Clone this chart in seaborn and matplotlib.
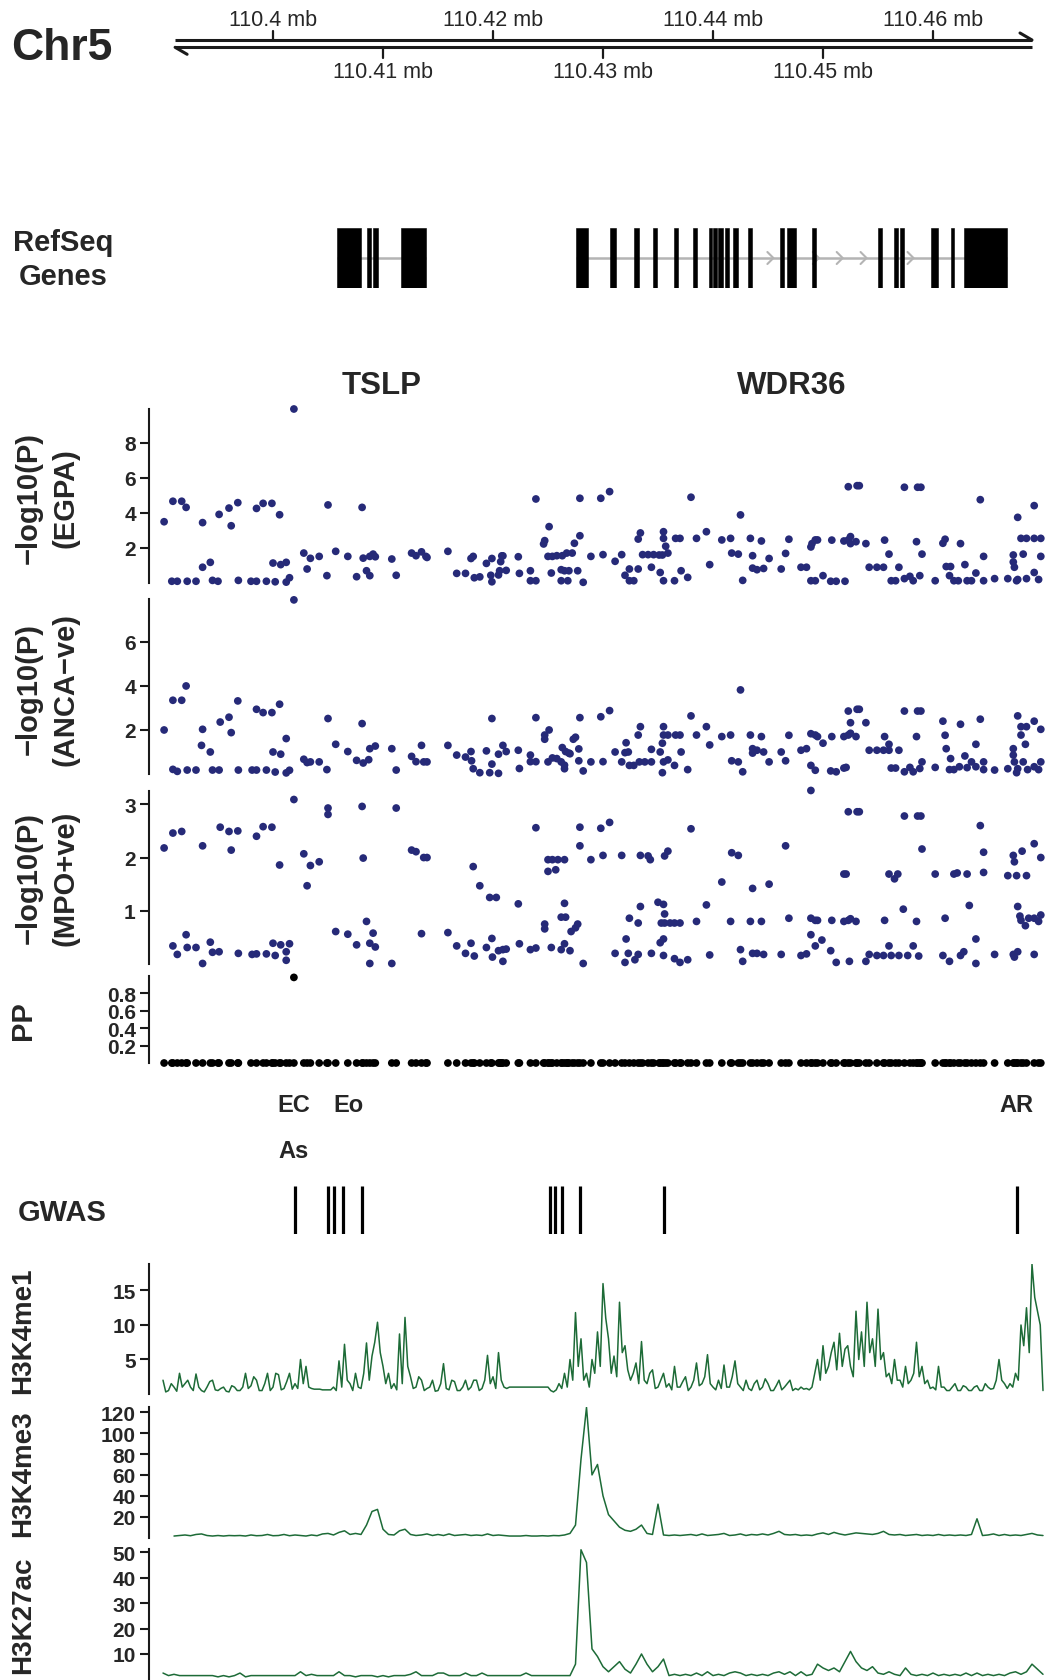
import numpy as np
import pandas as pd
import matplotlib
matplotlib.use("Agg")
import matplotlib.pyplot as plt
import matplotlib.transforms as mtransforms
import seaborn as sns

sns.set_theme(style="white")
plt.rcParams["font.family"] = ["Liberation Sans", "DejaVu Sans"]

# ---------------------------------------------------------------- region
ORIGIN_MB = 110.40                      # offsets below are kb from this point
VIEW_MB = (110.388727, 110.470273)      # plotted window on chr5

axis_ticks_upper = [110.40, 110.42, 110.44, 110.46]
axis_ticks_lower = [110.41, 110.43, 110.45]
axis_line_mb = (110.3911, 110.4690)

# ---------------------------------------------------------------- genes (Mb)
tslp_exons = [(110.40580, 110.40797), (110.40855, 110.40889),
              (110.40906, 110.40955), (110.41163, 110.41389)]
wdr36_exons = [(110.42758, 110.42863), (110.43066, 110.43119), (110.43280, 110.43327),
               (110.43454, 110.43493), (110.43641, 110.43684), (110.43819, 110.43854),
               (110.43963, 110.43993), (110.44002, 110.44036), (110.44049, 110.44088),
               (110.44105, 110.44149), (110.44184, 110.44227), (110.44315, 110.44358),
               (110.44610, 110.44645), (110.44675, 110.44758), (110.44897, 110.44932),
               (110.45496, 110.45532), (110.45645, 110.45679), (110.45697, 110.45732),
               (110.45984, 110.46045), (110.46166, 110.46193), (110.46279, 110.46671)]
wdr36_strand_marks = [110.44549, 110.44962, 110.45179, 110.45396, 110.45823]
gene_names = ["TSLP", "WDR36"]

# ---------------------------------------------------------------- association (kb offset, -log10 P)
egpa_points = [
    (-9.9, 3.5), (-9.1, 4.67), (-8.3, 4.67), (-7.9, 4.32), (-6.4, 3.45), (-6.4, 0.9), (-5.7, 1.18),
    (-9.2, 0.1), (-8.7, 0.1), (-7.8, 0.1), (-7.0, 0.1), (-5.5, 0.15), (-5.0, 0.1), (-4.9, 3.92),
    (-4.0, 4.28), (-3.8, 3.27), (-3.2, 4.59), (-3.15, 0.15), (-2.0, 0.1), (-1.5, 0.1), (-1.5, 4.26),
    (-0.9, 4.55), (-0.1, 4.55), (0.6, 3.9), (-0.6, 0.1), (0.0, 1.14), (0.7, 1.05), (1.2, 1.18),
    (0.2, 0.07), (1.2, 0.05), (1.5, 0.3), (1.9, 9.94), (2.8, 1.71), (3.4, 1.41), (3.1, 0.8),
    (4.2, 1.52), (5.0, 4.46), (4.9, 0.42), (5.7, 1.81), (6.8, 1.52), (7.6, 0.36), (8.1, 4.32),
    (8.2, 1.42), (8.8, 1.52), (9.1, 1.65), (9.3, 1.5), (8.5, 0.7), (8.8, 0.42), (10.8, 1.37),
    (11.2, 0.44), (12.6, 1.71), (13.0, 1.56), (13.5, 1.78), (13.9, 1.52), (14.0, 1.46), (15.9, 1.81),
    (16.7, 0.55), (17.5, 0.55), (18.0, 1.40), (18.2, 1.52), (18.3, 0.3), (18.8, 0.35), (19.4, 1.12),
    (19.9, 1.40), (19.8, 0.44), (19.9, 0.07), (20.5, 0.46), (20.6, 0.7), (21.2, 0.72), (20.8, 1.55),
    (20.9, 1.55), (20.7, 1.22), (22.3, 1.5), (22.4, 0.55), (23.4, 0.7), (23.4, 0.13), (23.9, 0.13),
    (23.9, 4.8), (25.1, 3.22), (24.7, 2.42), (24.6, 2.23), (25.0, 1.52), (25.4, 1.52), (25.8, 1.56),
    (26.3, 1.56), (26.7, 1.71), (27.2, 1.71), (25.3, 0.57), (26.2, 0.76), (26.5, 0.7), (26.9, 0.7),
    (27.7, 0.7), (26.2, 0.13), (26.8, 0.13), (27.4, 2.27), (27.9, 2.7), (27.9, 4.84), (28.2, 0.04),
    (28.9, 1.52), (29.8, 4.84), (30.0, 1.62), (30.6, 5.22), (31.1, 1.24), (31.7, 1.62), (32.0, 0.44),
    (32.4, 0.8), (32.4, 0.13), (32.8, 0.13), (33.2, 2.51), (33.4, 2.86), (33.2, 0.8), (33.6, 1.62),
    (34.1, 1.62), (34.6, 1.62), (35.1, 1.6), (35.4, 1.6), (35.9, 1.71), (34.4, 0.9), (35.5, 2.93),
    (35.5, 2.55), (35.7, 2.1), (35.2, 0.6), (35.5, 0.13), (36.5, 0.13), (36.6, 2.55), (37.0, 2.55),
    (37.1, 0.7), (37.7, 0.32), (38.0, 4.9), (38.5, 2.55), (39.4, 2.93), (39.7, 1.05), (40.8, 2.46),
    (41.6, 2.55), (41.7, 1.71), (42.3, 1.65), (42.5, 3.89), (42.7, 0.15), (43.4, 2.55), (43.6, 1.56),
    (43.6, 0.85), (44.0, 0.76), (44.4, 2.4), (44.6, 0.83), (45.1, 1.4), (46.2, 0.8), (46.6, 1.69),
    (46.9, 2.5), (48.0, 0.9), (48.5, 0.9), (48.9, 2.06), (49.0, 2.25), (48.9, 0.13), (49.3, 0.13),
    (49.3, 2.46), (49.5, 2.46), (50.0, 0.42), (50.7, 0.1), (51.2, 0.1), (52.0, 0.1), (50.8, 2.45),
    (51.9, 2.4), (52.3, 2.46), (52.5, 2.65), (53.0, 2.36), (52.5, 2.25), (52.3, 5.5), (53.1, 5.56),
    (53.3, 5.56), (53.9, 2.25), (54.2, 0.9), (54.9, 0.9), (55.5, 0.9), (55.6, 2.45), (56.0, 1.65),
    (56.2, 0.13), (56.6, 0.13), (57.4, 0.25), (57.9, 0.38), (58.2, 0.13), (58.8, 0.42), (56.9, 0.9),
    (57.4, 5.47), (58.6, 5.47), (58.9, 5.47), (58.5, 2.36), (59.0, 1.65), (60.2, 0.13), (60.9, 2.27),
    (61.1, 2.5), (61.2, 0.94), (61.6, 0.94), (61.5, 0.42), (61.9, 0.13), (62.3, 0.13), (62.5, 2.25),
    (62.9, 1.05), (63.1, 0.13), (63.5, 0.13), (63.9, 0.57), (64.3, 4.76), (64.6, 1.52), (64.6, 0.13),
    (65.6, 0.25), (66.8, 0.25), (67.3, 1.6), (67.3, 1.2), (67.4, 0.9), (67.6, 0.13), (67.7, 0.2),
    (67.7, 3.75), (68.0, 2.55), (68.5, 2.55), (69.2, 2.55), (69.8, 2.55), (68.2, 1.65), (69.2, 4.42),
    (68.5, 0.25), (69.2, 0.6), (69.6, 0.2), (69.8, 1.52),
]

anca_neg_points = [
    (-9.9, 2.0), (-9.1, 3.35), (-8.3, 3.35), (-7.9, 4.0), (-9.1, 0.21), (-8.7, 0.12), (-7.8, 0.18),
    (-7.0, 0.18), (-6.4, 2.03), (-6.5, 1.3), (-5.7, 1.0), (-5.5, 0.18), (-4.9, 0.18), (-4.8, 2.36),
    (-4.0, 2.58), (-3.8, 1.88), (-3.2, 3.32), (-3.15, 0.18), (-1.9, 0.18), (-1.5, 0.18), (-1.5, 2.94),
    (-0.9, 2.79), (-0.1, 2.79), (0.6, 3.17), (-0.6, 0.18), (0.0, 1.0), (0.7, 0.9), (1.2, 1.61),
    (0.2, 0.09), (1.2, 0.05), (1.5, 0.17), (1.9, 7.91), (2.8, 0.67), (3.1, 0.52), (3.4, 0.55),
    (4.2, 0.55), (5.0, 2.52), (4.9, 0.2), (5.7, 1.35), (6.8, 1.02), (7.6, 0.62), (8.1, 2.29),
    (8.2, 0.5), (8.7, 0.65), (8.8, 1.15), (9.3, 1.27), (10.8, 1.15), (11.2, 0.18), (12.6, 0.8),
    (13.0, 0.56), (13.5, 1.3), (13.7, 0.55), (14.0, 0.55), (15.9, 1.3), (16.7, 0.86), (17.5, 0.77),
    (18.0, 1.02), (18.05, 0.6), (18.2, 0.24), (18.8, 0.06), (19.4, 1.05), (19.9, 2.52), (19.9, 0.45),
    (19.7, 0.06), (20.5, 0.03), (20.5, 0.9), (20.9, 1.3), (21.2, 1.02), (22.3, 1.08), (22.4, 0.25),
    (23.4, 0.86), (23.4, 0.56), (23.9, 0.56), (23.9, 2.56), (25.1, 2.0), (24.7, 1.77), (24.7, 1.58),
    (25.0, 0.55), (25.4, 0.73), (25.8, 0.7), (26.2, 0.55), (26.5, 0.4), (26.9, 0.95), (27.3, 1.58),
    (27.5, 1.67), (26.3, 1.2), (26.6, 1.02), (27.0, 0.92), (26.5, 0.24), (27.8, 0.6), (27.8, 1.14),
    (28.2, 0.14), (27.9, 2.56), (28.9, 0.55), (29.8, 2.6), (30.0, 0.56), (30.6, 2.88), (31.1, 1.0),
    (31.7, 0.55), (32.0, 0.97), (32.1, 1.42), (32.3, 1.0), (32.4, 0.39), (32.8, 0.39), (33.3, 0.55),
    (33.8, 0.55), (34.4, 0.55), (34.4, 1.12), (33.2, 1.77), (33.4, 2.15), (35.2, 1.0), (35.5, 2.15),
    (35.5, 1.77), (35.4, 1.4), (35.9, 1.77), (35.5, 0.55), (35.9, 0.64), (35.4, 0.06), (36.5, 0.39),
    (36.6, 1.77), (37.0, 1.77), (37.1, 1.0), (37.7, 0.2), (38.0, 2.64), (38.5, 1.77), (39.4, 2.15),
    (39.7, 1.32), (40.8, 1.7), (41.6, 1.77), (41.7, 0.6), (42.3, 0.55), (42.5, 3.82), (42.7, 0.1),
    (43.4, 1.77), (43.6, 0.95), (43.6, 1.15), (44.0, 1.08), (44.4, 1.7), (44.6, 1.0), (45.1, 0.55),
    (46.2, 1.0), (46.6, 0.6), (46.9, 1.76), (48.0, 1.08), (48.5, 1.15), (48.9, 1.83), (49.3, 1.77),
    (49.5, 1.7), (48.9, 0.39), (49.3, 0.17), (50.0, 1.4), (50.7, 0.14), (51.2, 0.1), (50.8, 1.7),
    (51.9, 1.7), (52.3, 1.77), (52.5, 1.85), (53.0, 1.7), (51.9, 0.27), (52.1, 0.3), (52.3, 2.86),
    (53.1, 2.94), (53.3, 2.94), (52.5, 2.33), (53.9, 2.33), (54.2, 1.08), (54.9, 1.08), (55.5, 1.08),
    (56.0, 1.08), (56.9, 1.08), (55.6, 1.7), (56.0, 1.35), (56.2, 0.27), (56.6, 0.27), (57.4, 0.1),
    (57.9, 0.3), (58.2, 0.1), (58.8, 0.25), (59.0, 0.55), (57.4, 2.86), (58.6, 2.86), (58.9, 2.86),
    (58.5, 1.7), (60.2, 0.3), (60.9, 2.4), (61.1, 1.76), (61.2, 1.15), (61.6, 0.7), (61.5, 0.2),
    (61.9, 0.2), (62.4, 0.33), (62.5, 2.26), (62.9, 0.82), (63.1, 0.29), (63.5, 0.55), (63.9, 1.35),
    (63.9, 0.33), (64.3, 2.49), (64.6, 0.55), (64.6, 0.2), (65.6, 0.18), (66.8, 0.24), (67.3, 1.15),
    (67.3, 0.86), (67.4, 0.55), (67.6, 0.06), (67.7, 0.24), (67.7, 2.64), (68.0, 2.15), (68.5, 2.15),
    (69.2, 2.4), (69.8, 2.03), (68.0, 1.77), (68.4, 1.35), (68.2, 0.55), (68.6, 0.2), (69.2, 0.33),
    (69.6, 0.2), (69.8, 0.55),
]

mpo_pos_points = [
    (-9.9, 2.18), (-9.1, 2.46), (-8.3, 2.49), (-9.1, 0.34), (-8.7, 0.18), (-7.9, 0.55), (-7.8, 0.31),
    (-7.0, 0.31), (-6.4, 0.01), (-6.4, 2.22), (-5.7, 0.41), (-5.5, 0.22), (-4.9, 0.23), (-4.8, 2.57),
    (-4.0, 2.49), (-3.8, 2.14), (-3.2, 2.5), (-3.15, 0.2), (-1.9, 0.18), (-1.5, 0.19), (-1.5, 2.4),
    (-0.9, 2.58), (-0.1, 2.57), (0.6, 1.86), (-0.6, 0.19), (0.0, 0.39), (0.7, 0.36), (1.2, 0.23),
    (0.2, 0.16), (1.2, 0.07), (1.5, 0.38), (1.9, 3.09), (2.8, 2.07), (3.1, 1.47), (3.4, 1.85),
    (4.2, 1.92), (5.0, 2.93), (5.0, 2.81), (5.7, 0.61), (6.8, 0.56), (7.6, 0.36), (8.1, 2.96),
    (8.2, 1.99), (8.5, 0.8), (8.8, 0.01), (8.8, 0.39), (9.1, 0.58), (9.3, 0.32), (10.8, 0.01),
    (11.2, 2.93), (12.6, 2.14), (13.0, 2.11), (13.5, 0.57), (13.7, 2.0), (14.0, 2.0), (15.9, 0.59),
    (16.7, 0.34), (17.5, 0.2), (18.0, 0.39), (18.3, 0.15), (18.2, 1.83), (18.8, 1.47), (19.4, 0.31),
    (19.7, 1.25), (20.3, 1.25), (19.9, 0.48), (19.95, 0.13), (20.9, 0.05), (20.5, 0.25), (20.9, 0.27),
    (21.2, 0.28), (22.3, 1.13), (22.4, 0.38), (23.4, 0.27), (23.9, 0.3), (23.9, 2.56), (25.0, 1.96),
    (25.4, 1.96), (25.9, 1.96), (26.5, 1.96), (25.0, 1.74), (25.7, 1.77), (24.7, 0.75), (24.7, 0.66),
    (25.3, 0.31), (26.2, 0.88), (26.6, 0.88), (26.5, 1.14), (27.1, 0.61), (27.5, 0.68), (27.7, 0.75),
    (26.2, 0.27), (26.5, 0.38), (27.0, 0.25), (27.9, 2.57), (27.9, 2.22), (28.2, 0.01), (28.9, 1.96),
    (29.8, 2.55), (30.0, 2.04), (30.6, 2.66), (31.1, 0.2), (31.7, 2.04), (32.0, 0.03), (32.1, 0.47),
    (32.4, 0.86), (32.3, 0.2), (32.9, 0.08), (33.2, 0.18), (33.2, 0.77), (33.4, 1.08), (33.4, 2.04),
    (34.1, 2.03), (34.3, 1.96), (34.4, 0.2), (35.0, 1.16), (35.5, 1.12), (35.6, 0.94), (35.3, 0.77),
    (35.6, 0.77), (36.1, 0.77), (36.5, 0.77), (37.0, 0.77), (35.2, 0.4), (35.5, 0.47), (35.5, 0.16),
    (35.6, 2.03), (35.9, 2.12), (36.5, 0.1), (37.0, 0.03), (37.7, 0.08), (38.0, 2.54), (38.5, 0.8),
    (39.4, 1.11), (39.7, 0.17), (40.8, 1.54), (41.6, 0.8), (41.7, 2.09), (42.3, 2.04), (42.5, 0.27),
    (42.7, 0.05), (43.4, 0.8), (43.6, 1.42), (43.6, 0.2), (44.0, 0.2), (44.4, 0.8), (44.6, 0.18),
    (45.1, 1.5), (46.2, 0.18), (46.6, 2.22), (46.9, 0.86), (48.0, 0.16), (48.5, 0.19), (48.9, 0.86),
    (49.3, 0.82), (49.5, 0.82), (48.9, 3.26), (48.9, 0.55), (49.3, 0.34), (49.9, 0.45), (50.7, 0.25),
    (51.2, 0.03), (50.8, 0.82), (51.9, 1.69), (52.1, 1.69), (51.9, 0.8), (52.3, 0.82), (52.5, 0.85),
    (53.0, 0.8), (52.4, 0.05), (52.3, 2.86), (53.1, 2.86), (53.3, 2.86), (53.9, 0.05), (54.2, 0.18),
    (54.9, 0.16), (55.5, 0.16), (55.6, 0.82), (56.0, 0.34), (56.0, 1.69), (56.5, 1.6), (56.8, 1.69),
    (56.2, 0.16), (56.9, 0.16), (57.7, 0.16), (58.2, 0.34), (58.7, 0.15), (57.3, 1.03), (57.4, 2.78),
    (58.6, 2.78), (58.9, 2.78), (58.5, 0.8), (59.0, 2.16), (60.2, 1.69), (61.1, 0.86), (60.9, 0.16),
    (61.5, 0.05), (61.9, 1.69), (62.2, 1.71), (62.5, 0.16), (62.8, 0.23), (63.1, 1.69), (63.3, 1.1),
    (63.9, 0.47), (63.9, 0.01), (64.3, 2.6), (64.6, 1.72), (64.6, 2.1), (65.6, 0.18), (66.8, 1.66),
    (67.3, 2.04), (67.4, 1.92), (67.6, 1.66), (68.5, 1.66), (67.7, 1.08), (67.3, 0.18), (67.4, 0.13),
    (67.7, 0.23), (67.9, 0.9), (68.0, 0.82), (68.4, 0.72), (68.7, 0.86), (69.2, 0.86), (69.6, 0.8),
    (69.8, 0.92), (68.1, 2.12), (69.2, 2.26), (69.8, 2.0), (69.2, 0.18),
]

# posterior probability of the lead variant; every other SNP sits at 0
pp_lead = (1.9, 0.98)

# ---------------------------------------------------------------- GWAS hits (kb offset) and traits
gwas_kb = [1.97, 5.0, 5.58, 6.36, 8.09, 25.16, 25.64, 26.24, 27.89, 35.59, 67.64]
gwas_traits = [("EC", 1.9, 0), ("Eo", 6.9, 0), ("AR", 67.6, 0), ("As", 1.9, 1)]

# ---------------------------------------------------------------- histone signal (bins from -10 kb)
bin_start_kb = -10.0
me1_bin_kb = 0.25
mark_bin_kb = 0.5
nan = np.nan
h3k4me1 = [
    2.0, 0.3, 0.5, 1.5, 1.0, 0.4, 3.0, 1.0, 1.5, 2.0, 1.0, 0.5, 2.9, 1.0, 0.5, 0.3,
    1.0, 1.8, 2.0, 0.6, 0.5, 0.8, 1.0, 0.4, 0.3, 1.2, 1.0, 0.5, 0.5, 1.0, 3.0, 0.8,
    1.2, 2.5, 2.0, 0.5, 0.5, 1.5, 3.0, 0.5, 1.0, 3.0, 2.8, 0.6, 0.8, 1.8, 3.0, 0.7,
    1.5, 0.8, 5.0, 1.5, 4.0, 1.0, 0.8, 0.7, 0.7, 0.7, 0.6, 0.6, 0.6, 0.6, 1.0, 0.5,
    4.8, 1.0, 7.2, 2.0, 1.5, 0.5, 3.0, 1.0, 0.8, 3.0, 7.4, 2.0, 5.5, 7.5, 10.4, 6.0,
    4.0, 1.5, 3.0, 0.8, 1.5, 0.6, 8.7, 1.5, 11.1, 4.0, 2.5, 0.8, 1.0, 2.5, 2.0, 0.5,
    0.8, 1.0, 2.0, 0.4, 0.5, 1.5, 4.4, 0.8, 0.6, 2.0, 1.8, 0.5, 0.5, 1.0, 2.0, 0.6,
    1.0, 2.0, 2.0, 0.5, 0.8, 2.0, 5.6, 1.5, 2.5, 0.8, 6.0, 2.0, 1.0, 0.8, 1.0, nan,
    nan, nan, nan, nan, nan, nan, nan, nan, nan, nan, nan, nan,
    1.0, 0.5, 0.3, 0.6, 1.5, 0.8, 3.0, 1.0, 5.0, 2.0, 11.8, 4.0, 8.0, 2.0, 3.0, 1.0,
    5.0, 3.0, 9.0, 4.0, 16.0, 11.0, 8.0, 3.0, 5.5, 2.5, 13.3, 6.0, 7.0, 3.5, 2.0, 3.0,
    4.5, 1.5, 7.6, 2.0, 1.5, 3.0, 3.5, 0.8, 1.0, 2.0, 3.0, 1.0, 1.5, 0.6, 4.0, 1.0,
    1.0, 1.8, 2.5, 0.5, 1.0, 2.0, 4.5, 1.2, 1.5, 2.5, 5.7, 1.5, 1.0, 0.6, 2.0, 0.8,
    4.2, 1.0, 1.0, 2.5, 4.8, 1.5, 1.0, 0.5, 2.0, 0.8, 0.5, 1.5, 2.0, 0.6, 1.0, 2.2,
    1.5, 0.5, 0.5, 1.2, 2.0, 0.6, 1.0, 1.5, 2.0, 0.5, 0.8, 0.6, 1.0, 0.7, 0.8, 0.6,
    1.0, 3.0, 5.0, 2.0, 7.0, 3.0, 4.0, 6.0, 7.5, 3.5, 8.8, 4.0, 6.5, 7.0, 4.0, 2.5,
    12.0, 5.0, 9.0, 4.0, 13.3, 6.0, 8.0, 4.0, 12.3, 5.0, 6.0, 2.5, 3.0, 1.5, 5.0, 2.0,
    2.0, 1.0, 4.0, 1.5, 2.0, 3.0, 7.5, 2.5, 4.0, 1.5, 2.0, 0.8, 1.0, 0.6, 4.0, 1.0,
    1.0, 0.5, 0.5, 1.0, 1.5, 0.5, 0.5, 1.2, 1.0, 0.5, 0.5, 1.0, 1.2, 0.5, 0.5, 1.5,
    1.0, 0.7, 0.8, 2.0, 5.0, 2.0, 1.5, 0.8, 1.5, 1.0, 3.0, 2.0, 10.0, 7.0, 12.5, 6.0,
    18.8, 14.0, 12.0, 10.0, 0.5,
]
h3k4me3 = [
    nan, nan, 1.5, 2.0, 2.5, 1.8, 3.0, 3.5, 2.0, 1.5,
    2.0, 1.5, 2.0, 1.8, 2.0, 1.5, 2.5, 1.8, 2.0, 3.0,
    1.8, 2.0, 3.0, 1.8, 2.5, 2.0, 1.5, 2.5, 1.8, 3.5,
    4.0, 2.5, 5.0, 6.5, 3.0, 4.0, 3.0, 12.0, 25.0, 27.0,
    8.0, 3.0, 2.5, 6.5, 8.0, 3.0, 2.0, 2.5, 3.5, 2.0,
    3.0, 2.0, 3.5, 2.0, 2.5, 3.0, 2.0, 2.5, 2.0, 3.5,
    2.0, 2.5, 2.0, 1.5, 1.5, 1.5, 2.0, 1.5, 1.5, 1.8,
    1.5, 2.0, 1.8, 2.5, 4.0, 12.0, 75.0, 124.7, 60.0, 70.0,
    40.0, 22.0, 16.0, 10.0, 7.0, 6.0, 8.0, 12.0, 4.0, 3.0,
    32.0, 2.5, 2.0, 2.5, 2.0, 2.5, 3.0, 2.0, 3.5, 2.0,
    2.5, 3.0, 4.0, 2.0, 2.5, 3.5, 2.0, 3.0, 2.5, 3.5,
    2.5, 4.0, 6.0, 3.0, 2.5, 3.0, 2.0, 2.5, 2.0, 3.5,
    4.5, 3.0, 5.0, 3.5, 2.5, 3.5, 4.5, 4.0, 3.5, 3.0,
    4.0, 6.0, 3.0, 2.5, 3.0, 2.0, 2.5, 3.0, 2.0, 2.5,
    2.0, 3.0, 2.0, 2.5, 2.0, 2.5, 2.0, 3.0, 18.0, 2.0,
    2.5, 3.5, 2.0, 3.0, 2.0, 2.5, 2.0, 3.0, 4.0, 2.5, 2.0,
]
h3k27ac = [
    2.5, 1.5, 2.0, 1.5, 1.5, 1.5, 1.5, 1.5, 1.5, 1.5,
    1.0, 1.5, 1.0, 1.5, 2.5, 1.0, 1.5, 1.5, 1.5, 1.5,
    1.5, 1.5, 1.5, 1.5, 1.5, 3.0, 1.5, 2.0, 1.5, 1.5,
    1.5, 1.5, 3.0, 1.5, 1.5, 1.0, 1.5, 1.5, 1.5, 1.0,
    1.5, 1.0, 1.5, 1.5, 1.5, 2.0, 3.0, 1.5, 1.5, 1.5,
    2.5, 2.5, 1.5, 1.5, 1.5, 2.5, 1.5, 1.5, 2.5, 1.5,
    1.5, 1.5, 1.5, 1.5, 1.5, 1.5, 2.5, 1.5, 1.5, 1.5,
    1.5, 1.5, 1.5, 1.5, 1.5, 6.0, 51.0, 46.0, 12.0, 9.0,
    5.0, 3.0, 5.0, 7.0, 4.0, 2.5, 6.0, 10.0, 6.0, 3.0,
    5.0, 8.0, 1.5, 2.0, 1.5, 2.0, 1.5, 2.5, 1.5, 3.0,
    1.5, 2.0, 1.5, 2.5, 3.0, 2.5, 1.5, 2.0, 1.5, 2.0,
    1.5, 2.5, 3.0, 2.0, 3.0, 1.5, 3.0, 1.5, 2.0, 6.0,
    4.5, 3.5, 4.5, 3.0, 7.0, 11.0, 7.0, 4.5, 3.5, 5.0,
    2.5, 2.0, 3.0, 2.0, 1.5, 4.5, 2.0, 1.5, 2.0, 1.5,
    2.5, 1.5, 2.0, 1.5, 2.0, 1.5, 2.5, 1.5, 2.5, 1.5,
    2.0, 1.5, 2.0, 1.5, 2.5, 3.0, 2.0, 3.0, 6.0, 4.0, 2.0,
]

# ---------------------------------------------------------------- styling
NAVY = "#262A78"
GREEN = "#1D6B37"
INTRON = "#B4B4B4"
W, H = 1046, 1681
LEFT_PX = 149


def to_mb(kb):
    return ORIGIN_MB + np.asarray(kb, dtype=float) / 1000.0


fig = plt.figure(figsize=(W / 100, H / 100), dpi=100)


def track(top, bottom, left=LEFT_PX, right=W):
    ax = fig.add_axes([left / W, 1 - bottom / H, (right - left) / W, (bottom - top) / H])
    ax.set_xlim(*VIEW_MB)
    ax.set_facecolor("none")
    ax.grid(False)
    return ax


def data_axis(ax, ylim, ticks, labels):
    ax.set_ylim(*ylim)
    for side in ("top", "right", "bottom"):
        ax.spines[side].set_visible(False)
    ax.spines["left"].set_color("#1a1a1a")
    ax.spines["left"].set_linewidth(1.5)
    ax.set_xticks([])
    ax.set_yticks(ticks)
    ax.set_yticklabels(labels, fontweight="bold")
    ax.tick_params(axis="y", left=True, length=6.5, width=1.5, pad=3,
                   labelsize=15, color="#1a1a1a")
    ax.set_xlabel("")
    ax.set_ylabel("")


def fig_text(x_px, y_px, s, **kw):
    fig.text(x_px / W, 1 - y_px / H, s, **kw)


# ---------------------------------------------------------------- genome axis
ax_axis = track(0, 95)
ax_axis.set_ylim(95, 0)
ax_axis.axis("off")
up_y, low_y = 41.0, 48.3
barb = 12 / 11000.0
ax_axis.plot(axis_line_mb, [up_y, up_y], color="k", lw=2.2, solid_capstyle="butt")
ax_axis.plot(axis_line_mb, [low_y, low_y], color="k", lw=2.2, solid_capstyle="butt")
ax_axis.plot([axis_line_mb[1] - barb, axis_line_mb[1]], [up_y - 7, up_y], color="k", lw=2.2)
ax_axis.plot([axis_line_mb[0], axis_line_mb[0] + barb], [low_y, low_y + 7], color="k", lw=2.2)
for t in axis_ticks_upper:
    ax_axis.plot([t, t], [31.5, up_y], color="k", lw=1.6)
    ax_axis.text(t, 20, f"{t:g} mb", ha="center", va="center", fontsize=15.5)
for t in axis_ticks_lower:
    ax_axis.plot([t, t], [low_y, 58.5], color="k", lw=1.6)
    ax_axis.text(t, 72.5, f"{t:g} mb", ha="center", va="center", fontsize=15.5)
fig_text(11, 48, "Chr5", fontsize=32, fontweight="bold", ha="left", va="center")

# ---------------------------------------------------------------- gene models
ax_gene = track(229, 289)
ax_gene.set_ylim(0, 1)
ax_gene.axis("off")
blend = mtransforms.blended_transform_factory(ax_gene.transData, fig.transFigure)
for name, exons in zip(gene_names, [tslp_exons, wdr36_exons]):
    start, end = exons[0][0], exons[-1][1]
    ax_gene.hlines(0.5, start, end, color=INTRON, lw=1.8, zorder=1)
    ax_gene.broken_barh([(s, e - s) for s, e in exons], (0, 1), facecolors="black",
                        edgecolor="black", linewidth=0.4, zorder=2)
    ax_gene.text((start + end) / 2, 1 - 386 / H, name, transform=blend, ha="center",
                 va="center", fontsize=22.5, fontweight="bold")
chev = 6 / 11000.0
for c in wdr36_strand_marks:
    ax_gene.plot([c - chev, c, c - chev], [0.6, 0.5, 0.4], color=INTRON, lw=1.5, zorder=1)
fig_text(62.7, 260, "RefSeq\nGenes", fontsize=21, fontweight="bold", ha="center",
         va="center", linespacing=1.3)

# ---------------------------------------------------------------- association panels
panels = [
    (egpa_points, (410, 584), (0, 9.94), [2, 4, 6, 8], "\u2212log10(P)\n(EGPA)", 498),
    (anca_neg_points, (600, 775), (0, 7.95), [2, 4, 6], "\u2212log10(P)\n(ANCA\u2212ve)", 689),
    (mpo_pos_points, (792, 965), (0, 3.25), [1, 2, 3], "\u2212log10(P)\n(MPO+ve)", 878),
]
for pts, (top, bottom), ylim, ticks, label, label_y in panels:
    ax = track(top, bottom)
    df = pd.DataFrame(pts, columns=["kb", "logp"])
    df["pos"] = to_mb(df["kb"])
    sns.scatterplot(data=df, x="pos", y="logp", ax=ax, color=NAVY, s=31,
                    edgecolor="none", linewidth=0, clip_on=False, legend=False)
    data_axis(ax, ylim, ticks, [str(t) for t in ticks])
    fig_text(47, label_y, label, rotation=90, fontsize=21, fontweight="bold",
             ha="center", va="center", linespacing=1.4, multialignment="center")

# ---------------------------------------------------------------- posterior probability
ax_pp = track(977, 1064)
snp_kb = sorted({kb for kb, _ in egpa_points})
pp_df = pd.DataFrame({"kb": snp_kb, "pp": 0.0})
pp_df = pd.concat([pp_df, pd.DataFrame({"kb": [pp_lead[0]], "pp": [pp_lead[1]]})])
pp_df["pos"] = to_mb(pp_df["kb"])
sns.scatterplot(data=pp_df, x="pos", y="pp", ax=ax_pp, color="black", s=31,
                edgecolor="none", linewidth=0, clip_on=False, legend=False)
pp_ticks = [0.2, 0.4, 0.6, 0.8]
data_axis(ax_pp, (0, 0.996), pp_ticks, [f"{t:.1f}" for t in pp_ticks])
fig_text(23, 1021, "PP", rotation=90, fontsize=21, fontweight="bold", ha="center", va="center")

# ---------------------------------------------------------------- GWAS hits
for trait, kb, row in gwas_traits:
    fig_text(LEFT_PX + (to_mb(kb) - VIEW_MB[0]) / (VIEW_MB[1] - VIEW_MB[0]) * (W - LEFT_PX),
             1105 + 46 * row, trait, fontsize=17, fontweight="bold", ha="center", va="center")
ax_gwas = track(1187, 1235)
ax_gwas.set_ylim(0, 1)
ax_gwas.axis("off")
ax_gwas.vlines(to_mb(gwas_kb), 0, 1, color="black", lw=2.3)
fig_text(62, 1213, "GWAS", fontsize=21, fontweight="bold", ha="center", va="center")

# ---------------------------------------------------------------- histone marks
histone = [
    ("H3K4me1", h3k4me1, me1_bin_kb, (1265, 1395), (0, 18.84), [5, 10, 15], 1331),
    ("H3K4me3", h3k4me3, mark_bin_kb, (1408, 1538.6), (0, 125), [20, 40, 60, 80, 100, 120], 1474),
    ("H3K27ac", h3k27ac, mark_bin_kb, (1550, 1680.4), (0, 51.3), [10, 20, 30, 40, 50], 1615),
]
for name, values, step, (top, bottom), ylim, ticks, label_y in histone:
    ax = track(top, bottom)
    bins = bin_start_kb + step * np.arange(len(values))
    df = pd.DataFrame({"pos": to_mb(bins), "signal": values}).dropna()
    sns.lineplot(data=df, x="pos", y="signal", ax=ax, color=GREEN, lw=1.1,
                 estimator=None, sort=True, legend=False)
    data_axis(ax, ylim, ticks, [str(t) for t in ticks])
    fig_text(23, label_y, name, rotation=90, fontsize=20, fontweight="bold",
             ha="center", va="center")

fig.savefig("out.png", dpi=100)
